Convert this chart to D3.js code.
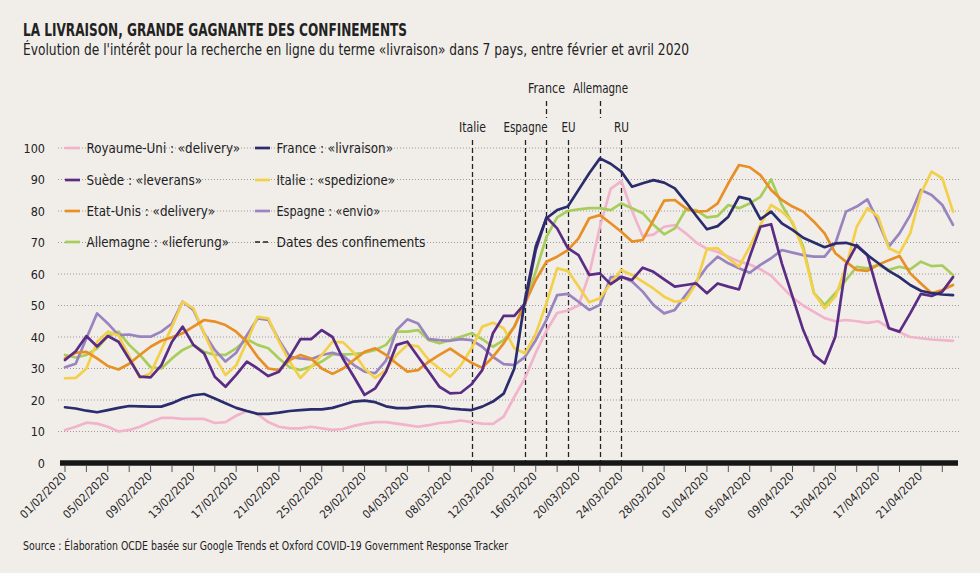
<!DOCTYPE html>
<html><head><meta charset="utf-8">
<script src="https://cdn.jsdelivr.net/npm/d3@7"></script>
<style>
html,body{margin:0;padding:0;background:#f1eeea;}
svg{display:block;}
text{font-family:"Liberation Sans Narrow","DejaVu Sans Condensed","Roboto Condensed","Liberation Sans",sans-serif;fill:#222;}
</style></head>
<body>
<svg id="chart" width="980" height="573"></svg>
<script>
// ---- DATA ----
const startDate = new Date(2020, 1, 1); // 01/02/2020, one value per day
const nDays = 84;

const royaumeUni = [10.5,11.5,12.8,12.5,11.5,10,10.5,11.5,13,14.3,14.3,14,14,14,12.7,13,15,16.5,15.5,13,11.5,11,11,11.5,11,10.5,10.8,11.8,12.5,13,13,12.5,12,11.5,12,12.7,13,13.5,13,12.5,12.4,14.7,21,27,35,42,47.6,48.4,50,60,75,87,89.5,80,72,72.5,75,75.5,73,70,68,67,65.5,64,63,61.5,59.5,56,52.5,50,48,46,45,45.4,45,44.5,45,43,41.5,40,39.6,39.2,39,38.8];
const france = [17.7,17.3,16.6,16.1,16.8,17.5,18.1,18,17.9,17.9,19,20.5,21.5,21.9,20.5,19,17.5,16.5,15.6,15.6,16,16.5,16.8,17,17,17.5,18.5,19.5,19.8,19.3,18,17.4,17.4,17.8,18.1,17.9,17.3,17,16.8,17.9,19.5,22,30,52,68.7,77.7,80.3,81.4,86.7,92,96.7,95,92.5,87.7,88.8,89.8,89,87.2,83,78.5,74.2,75.2,78.2,84.5,83.7,77.4,79.8,76.1,74,71.5,70,68.5,69.7,69.9,68.9,66,63.5,61,59,56.5,54.7,53.9,53.5,53.3];
const suede = [32.7,35.5,40.3,37,40.3,38.5,33,27.4,27.2,31,38.5,43.3,37.5,34.8,27.4,24.2,28,32.2,30,27.6,29,33.7,39.3,39.3,42.2,40,33,27.4,21.6,23.7,29,37.5,38.5,33.7,29,24.2,22.1,22.3,25,29.5,41.2,46.7,46.7,50.7,67.6,78,74.5,68.2,66,59.7,60.2,56.8,59.1,58.1,62,60.7,58.3,56,56.5,57,53.9,57,56,55.1,65.5,75,75.8,63.4,52.8,42.2,34.3,31.6,40.1,63,69.2,66,54,42.8,41.7,47.5,53.7,53,54.4,59];
const italie = [26.9,27,30,38.5,41.7,40.5,34,27,28.5,35.9,43.3,51.2,49.1,41.2,33.7,27.9,31,38.5,46.4,45.9,38.5,32.2,27,30.5,34.3,38.5,38.3,35,30,27,29.5,34.3,37.5,37,32.7,30,27.4,31,36.4,43.3,44.5,42.8,36.4,34.8,41,50.7,61.8,61,56,51,52.3,57,61.3,59.7,57.6,55.4,52.8,51.2,51.7,57,68,68.2,65,62.3,68.7,75.6,81.9,79.8,76.6,67.6,54,49.1,52.8,62.3,75,80.9,78.2,68.2,66.6,72.9,85.6,92.5,90.4,79.8];
const etatsUnis = [33.2,35,35.3,33.2,30.8,29.7,31.5,34.3,36.9,38.8,39.9,41.2,43.3,45.4,44.9,43.8,41.7,38.5,33.7,30,29.5,32.7,34.3,33.2,30,28.3,30,32.7,35.3,36.4,34.3,31.6,29,29.5,32.2,34.3,36.3,34,31.8,30.2,33.7,38,43.3,50.7,58.1,63.9,65.5,67.6,71.3,77.7,78.7,76.1,73.4,70.3,70.8,77.1,83.3,83.5,80.9,79.8,80,82.4,88.8,94.6,93.9,91.4,86.7,83.5,81.4,79.8,76.6,72.9,66.6,63.9,61.3,61,62.9,64.4,65.7,60.2,57,53.9,54.9,56.5];
const espagne = [30.4,31.5,39.6,47.5,44.3,40.6,40.8,40.1,40.1,41.7,44.3,51.2,48.6,41.2,35.9,32.2,35,40.6,45.9,45.4,39,33.7,33.2,32.9,34.3,35,34,31.1,29,28.5,32.5,42.2,45.6,44.3,39.3,39,38.8,39.3,39,36.9,33.7,31.4,31.1,33.7,39,45.4,53.3,53.7,51.2,48.6,50.2,59,59.1,57.6,54.4,50.2,47.5,48.6,53.3,57.6,62.3,65.5,63.4,61.8,60.4,62.9,65,67.6,66.8,66,65.5,65.5,69.7,79.8,81.4,83.7,76.6,68.7,72.9,78.7,86.7,85.1,81.9,75.6];
const allemagne = [34.3,33.5,34.3,36.4,40.3,41.7,37.5,34.3,30.4,30,33.2,35.9,37.5,35.3,34.3,34.3,36.4,39.3,37.5,36.4,33.2,30.4,29.5,30.6,32.2,34.5,34.5,34.6,35,35.9,37.5,41.7,41.7,42.2,39,38,39,40.1,41.2,39.3,36.9,39,43.3,50.7,60.7,71.8,78,80,80.5,80.9,80.9,80.3,82.4,80.9,79.3,75.6,72.6,74.5,80.3,80.3,78,78.4,81.9,80.9,82.4,84.5,90,81.9,76.1,68.7,54,50.2,53.9,58.1,62.3,61.8,62.9,61.3,62.3,61.5,63.9,62.5,62.7,59.7];

const seriesNames = ["Royaume-Uni : «delivery»","France : «livraison»","Suède : «leverans»","Italie : «spedizione»","Etat-Unis : «delivery»","Espagne : «envio»","Allemagne : «lieferung»"];
const seriesValues = [royaumeUni, france, suede, italie, etatsUnis, espagne, allemagne];
const seriesColors = ["#f2b3cc","#2a2c6b","#5b2c83","#f3d04a","#e88f25","#9a84bf","#a9cd5b"];
const drawOrder = [0,6,5,3,4,2,1];

const yTicks = [0,10,20,30,40,50,60,70,80,90,100];
const lockdowns = [
  {label:"Italie",   date:new Date(2020,2,10), row:1},
  {label:"Espagne",  date:new Date(2020,2,15), row:1},
  {label:"France",   date:new Date(2020,2,17), row:0},
  {label:"EU",       date:new Date(2020,2,19), row:1},
  {label:"Allemagne",date:new Date(2020,2,22), row:0},
  {label:"RU",       date:new Date(2020,2,24), row:1}
];

// ---- CHART ----
const svg = d3.select("#chart");
const dates = d3.range(nDays).map(i => d3.timeDay.offset(startDate, i));
const x = d3.scaleTime().domain([dates[0], dates[nDays-1]]).range([65, 953]);
const y = d3.scaleLinear().domain([0,100]).range([463,148]);
const fmt = d3.timeFormat("%d/%m/%Y");

// titles
svg.append("text").attr("x",23).attr("y",36).attr("font-size",17).attr("font-weight","bold")
  .attr("textLength",384).attr("lengthAdjust","spacingAndGlyphs")
  .text("LA LIVRAISON, GRANDE GAGNANTE DES CONFINEMENTS");
svg.append("text").attr("x",23).attr("y",55).attr("font-size",15.5).attr("fill","#333")
  .attr("textLength",666).attr("lengthAdjust","spacingAndGlyphs")
  .text("Évolution de l'intérêt pour la recherche en ligne du terme «livraison» dans 7 pays, entre février et avril 2020");

// grid
svg.append("g").selectAll("line").data(yTicks.filter(d=>d>0)).join("line")
  .attr("x1",58).attr("x2",959).attr("y1",d=>y(d)).attr("y2",d=>y(d))
  .attr("stroke","#9a9a9a").attr("stroke-width",1).attr("stroke-dasharray","1,2");

// y labels
svg.append("g").selectAll("text").data(yTicks).join("text")
  .attr("x",45).attr("y",d=>y(d)+4.5).attr("text-anchor","end").attr("font-size",12.5).attr("fill","#333")
  .text(d=>d);

// lockdown lines
const labelWidths = {"Italie":27,"Espagne":44,"France":37,"EU":14,"Allemagne":55,"RU":15};
const lg = svg.append("g");
lockdowns.forEach(l => {
  const lx = Math.round(x(l.date))+0.5;
  lg.append("line").attr("x1",lx).attr("x2",lx).attr("y1",140).attr("y2",461)
    .attr("stroke","#222").attr("stroke-width",1.3).attr("stroke-dasharray","5,3");
  if (l.row===0) {
    lg.append("line").attr("x1",lx).attr("x2",lx).attr("y1",101).attr("y2",118)
      .attr("stroke","#222").attr("stroke-width",1.3).attr("stroke-dasharray","5,3");
  }
  const w = labelWidths[l.label];
  lg.append("text").attr("x",lx - w/2).attr("y", l.row===0 ? 93 : 132)
    .attr("font-size",13.5).attr("textLength",w).attr("lengthAdjust","spacingAndGlyphs").text(l.label);
});

// lines
const line = d3.line().x((d,i)=>x(dates[i])).y(d=>y(d));
svg.append("g").selectAll("path").data(drawOrder).join("path")
  .attr("d", k => line(seriesValues[k]))
  .attr("fill","none").attr("stroke", k => seriesColors[k]).attr("stroke-width",2.7)
  .attr("stroke-linejoin","round").attr("stroke-linecap","round");

// x axis bar
svg.append("line").attr("x1",60).attr("x2",958).attr("y1",y(0)).attr("y2",y(0))
  .attr("stroke","#161616").attr("stroke-width",5.5);
const tickDates = d3.range(0, nDays, 2).map(i => dates[i]);
svg.append("g").selectAll("line").data(tickDates).join("line")
  .attr("x1",d=>x(d)).attr("x2",d=>x(d)).attr("y1",466).attr("y2",472)
  .attr("stroke","#555").attr("stroke-width",1);
const labelDates = d3.range(0, nDays, 4).map(i => dates[i]);
svg.append("g").selectAll("text").data(labelDates).join("text")
  .attr("transform", d => `translate(${x(d)+2},${477}) rotate(-45)`)
  .attr("text-anchor","end").attr("font-size",11.5).attr("fill","#333")
  .text(d => fmt(d));

// legend
const legendPos = [[65,148],[255,148],[65,180],[255,180],[65,211],[255,211],[65,242]];
const legendEnds = [240,393,202,395,215,380,229];
const leg = svg.append("g");
seriesNames.forEach((name,k) => {
  const [lx,ly] = legendPos[k];
  leg.append("line").attr("x1",lx).attr("x2",lx+15).attr("y1",ly).attr("y2",ly)
    .attr("stroke",seriesColors[k]).attr("stroke-width",2.7);
  leg.append("text").attr("x",lx+21.5).attr("y",ly+5).attr("font-size",14.5)
    .attr("textLength", legendEnds[k]-(lx+21.5)).attr("lengthAdjust","spacingAndGlyphs")
    .text(name);
});
leg.append("line").attr("x1",255).attr("x2",270).attr("y1",242).attr("y2",242)
  .attr("stroke","#222").attr("stroke-width",1.3).attr("stroke-dasharray","5,3");
leg.append("text").attr("x",276.5).attr("y",247).attr("font-size",14.5)
  .attr("textLength",149).attr("lengthAdjust","spacingAndGlyphs")
  .text("Dates des confinements");

// source
svg.append("text").attr("x",23).attr("y",550).attr("font-size",12).attr("fill","#222")
  .attr("textLength",485).attr("lengthAdjust","spacingAndGlyphs")
  .text("Source : Élaboration OCDE basée sur Google Trends et Oxford COVID-19 Government Response Tracker");
</script>
</body></html>
